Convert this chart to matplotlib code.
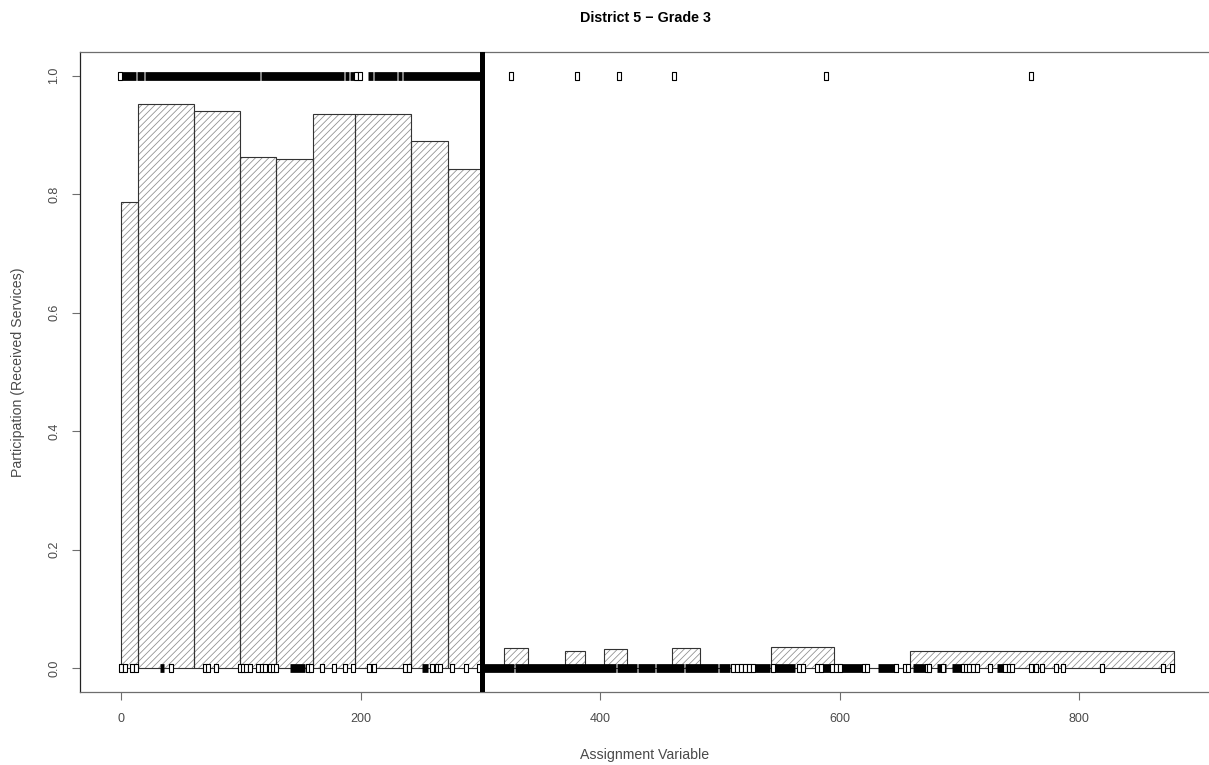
import matplotlib
matplotlib.use("Agg")
import matplotlib.pyplot as plt
from matplotlib.path import Path

# ---------------- data ----------------
title = "District 5 \u2212 Grade 3"
xlabel = "Assignment Variable"
ylabel = "Participation (Received Services)"
cutoff = 301
x_ticks = [0, 200, 400, 600, 800]
x_tick_labels = ["0", "200", "400", "600", "800"]
y_ticks = [0.0, 0.2, 0.4, 0.6, 0.8, 1.0]
y_tick_labels = ["0.0", "0.2", "0.4", "0.6", "0.8", "1.0"]

# binned participation rates
bin_left = [0, 14.0, 60.3, 99.3, 129.3, 159.7, 195.3, 241.9, 272.5,
            300, 319.6, 339.9, 370.8, 387.0, 402.9, 422.6, 459.8, 483.3,
            542.4, 595.5, 658.2]
bin_right = [14.0, 60.3, 99.3, 129.3, 159.7, 195.3, 241.9, 272.5, 300,
             319.6, 339.9, 370.8, 387.0, 402.9, 422.6, 459.8, 483.3, 542.4,
             595.5, 658.2, 878.8]
bin_prop = [0.787, 0.953, 0.941, 0.863, 0.859, 0.936, 0.936, 0.889, 0.842,
            0.0, 0.035, 0.0, 0.030, 0.0, 0.032, 0.0, 0.035, 0.0,
            0.0355, 0.0, 0.030]

# participants (y = 1): runs where observations are so dense they merge
part_run_start = [0.5, 13.2, 19.5, 116.9, 187.1, 190.7, 205.9, 210.9, 231.1, 235.3]
part_run_end = [12.3, 18.6, 116.1, 186.2, 189.8, 194.1, 210.0, 230.2, 234.4, 301.0]
part_points = [-1.5, 196.3, 199.6, 325.3, 380.4, 415.5, 461.4, 588.3, 759.5]

# non-participants (y = 0)
nonpart_run_start = [32.0, 141.0, 251.0, 301.0, 329.0, 414.0, 431.1, 446.5,
                     470.4, 499.4, 529.0, 545.7, 585.8, 600.8, 632.0, 661.2,
                     681.3, 694.1, 730.9]
nonpart_run_end = [35.6, 153.0, 256.0, 328.2, 413.2, 430.3, 445.7, 469.6,
                   498.6, 508.4, 541.5, 562.4, 591.7, 618.3, 648.7, 671.0,
                   688.5, 701.9, 736.1]
nonpart_points = [0.0, 2.7, 9.2, 12.1, 41.6, 69.6, 72.6, 78.6, 99.1, 101.6,
                  104.1, 107.6, 114.1, 117.6, 119.6, 124.1, 126.6, 129.1,
                  156.1, 158.6, 167.6, 177.6, 187.1, 193.3, 206.6, 210.6,
                  237.1, 240.1, 259.3, 263.6, 266.0, 276.4, 287.6, 298.6,
                  510.7, 514.0, 517.3, 520.7, 524.0, 527.4, 543.9, 565.8,
                  569.1, 580.8, 584.2, 593.4, 596.7, 600.0, 620.1, 622.6,
                  646.8, 654.3, 656.8, 672.7, 674.3, 686.0, 702.7, 705.2,
                  707.7, 711.5, 714.4, 725.7, 737.8, 741.1, 743.7, 759.5,
                  763.7, 768.7, 780.4, 786.2, 818.8, 869.7, 877.2]

# ---------------- figure ----------------
plt.rcParams["font.family"] = ["Liberation Sans", "DejaVu Sans"]
plt.rcParams["hatch.linewidth"] = 0.55

W, H = 1209, 765
fig = plt.figure(figsize=(W / 100, H / 100), dpi=100)
ax = fig.add_axes([79.5 / W, (H - 692) / H, (1211 - 79.5) / W, 640 / H])
ax.set_xlim(-35, 910)
ax.set_ylim(-0.04, 1.04)

widths = [r - l for l, r in zip(bin_left, bin_right)]
# hatched fill (hatch colour taken from edge colour)
ax.bar(bin_left, bin_prop, width=widths, align="edge", facecolor="white",
       edgecolor="#8c8c8c", linewidth=0, hatch="/////", zorder=1)
# outlines
ax.bar(bin_left, bin_prop, width=widths, align="edge", facecolor="none",
       edgecolor="#333333", linewidth=0.8, zorder=2)

# rug of observations
rect = Path([(-0.24, -0.5), (0.24, -0.5), (0.24, 0.5), (-0.24, 0.5), (-0.24, -0.5)],
            [Path.MOVETO, Path.LINETO, Path.LINETO, Path.LINETO, Path.CLOSEPOLY])
band_lw = 6.3
lc1 = ax.hlines([1.0] * len(part_run_start), part_run_start, part_run_end,
                colors="black", linewidth=band_lw, zorder=3)
lc1.set_capstyle("butt")
lc0 = ax.hlines([0.0] * len(nonpart_run_start), nonpart_run_start, nonpart_run_end,
                colors="black", linewidth=band_lw, zorder=3)
lc0.set_capstyle("butt")
ax.plot(part_points, [1.0] * len(part_points), linestyle="none", marker=rect,
        markersize=6.3, markerfacecolor="white", markeredgecolor="black",
        markeredgewidth=0.8, zorder=4)
ax.plot(nonpart_points, [0.0] * len(nonpart_points), linestyle="none", marker=rect,
        markersize=6.3, markerfacecolor="white", markeredgecolor="black",
        markeredgewidth=0.8, zorder=4)

# cutoff
ax.axvline(cutoff, color="black", linewidth=3.6, zorder=5)

# axes styling
for side in ["top", "bottom", "right"]:
    ax.spines[side].set_color("#6e6e6e")
    ax.spines[side].set_linewidth(0.9)
ax.spines["left"].set_color("#222222")
ax.spines["left"].set_linewidth(0.9)

ax.set_xticks(x_ticks)
ax.set_xticklabels(x_tick_labels)
ax.set_yticks(y_ticks)
ax.set_yticklabels(y_tick_labels, rotation=90, va="center")
ax.tick_params(axis="both", direction="out", length=6, width=0.8, color="#6e6e6e",
               labelcolor="#4a4a4a", labelsize=9)
ax.tick_params(axis="x", pad=9)
ax.tick_params(axis="y", pad=8)

fig.text(645 / W, 1 - 18 / H, title, ha="center", va="center",
         fontsize=10.3, fontweight="bold", color="black")
fig.text(645 / W, 1 - 755 / H, xlabel, ha="center", va="center",
         fontsize=10.2, color="#4a4a4a")
fig.text(18 / W, 1 - 372 / H, ylabel, ha="center", va="center", rotation=90,
         fontsize=10.2, color="#4a4a4a")

fig.savefig("out.png", dpi=100)
